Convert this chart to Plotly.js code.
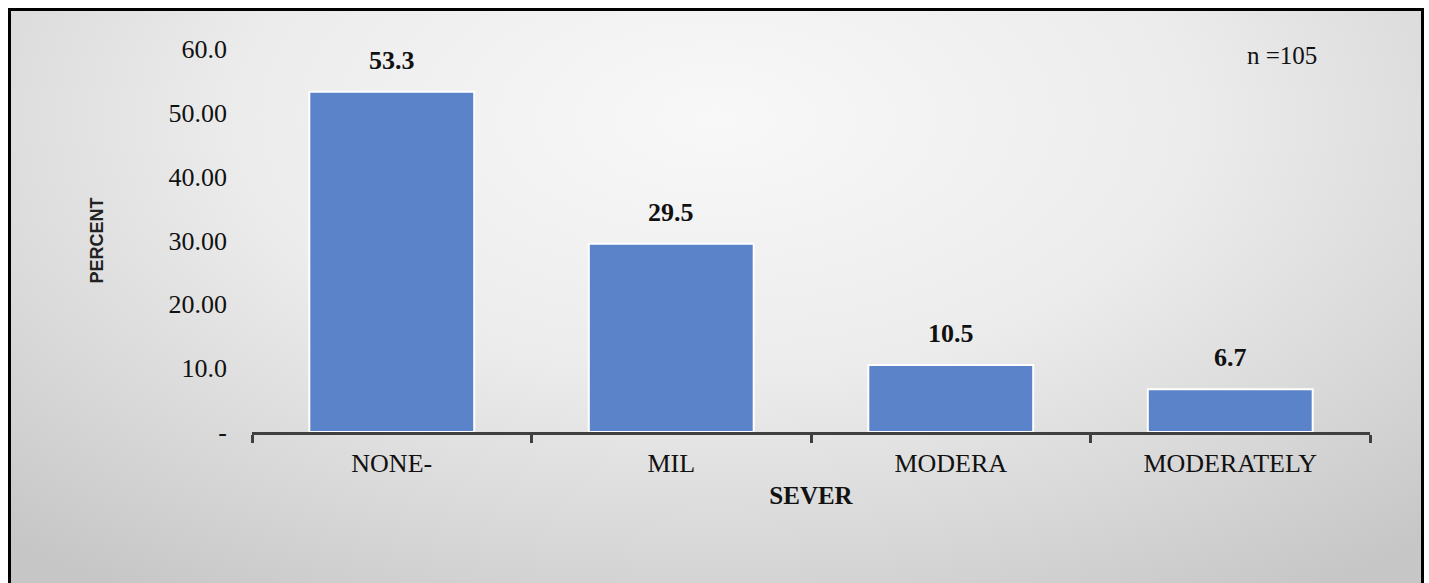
<!DOCTYPE html>
<html>
<head>
<meta charset="utf-8">
<script src="https://cdn.plot.ly/plotly-3.0.1.min.js"></script>
<style>
  html, body { margin: 0; padding: 0; width: 1429px; height: 583px; overflow: hidden; background: #ffffff; }
  #frame {
    position: absolute; left: 8px; top: 8px; width: 1410px; height: 600px;
    border-left: 3px solid #000; border-top: 3px solid #000; border-right: 3px solid #000;
    background: radial-gradient(ellipse 75% 95% at 50% 18%, #f8f8f8 0%, #ececec 45%, #d8d8d8 75%, #c6c6c6 100%);
  }
  #chart { position: absolute; left: 0; top: 0; width: 1429px; height: 583px; }
</style>
</head>
<body>
<div id="frame"></div>
<div id="chart"></div>
<script>
const categories = ["NONE-", "MIL", "MODERA", "MODERATELY"];
const percents = [53.3, 29.5, 10.5, 6.7];
const valueLabels = ["53.3", "29.5", "10.5", "6.7"];
const yTickVals = [0, 10, 20, 30, 40, 50, 60];
const yTickText = ["-", "10.0", "20.00", "30.00", "40.00", "50.00", "60.0"];
const sampleNote = "n =105";

const serif = "'Liberation Serif', 'Times New Roman', serif";

const trace = {
  type: "bar",
  x: categories,
  y: percents,
  marker: { color: "#5b83c9", line: { color: "#ffffff", width: 2 } },
  hoverinfo: "x+y"
};

const annotations = categories.map((c, i) => ({
  x: c, y: percents[i], xref: "x", yref: "y",
  text: "<b>" + valueLabels[i] + "</b>",
  showarrow: false, yanchor: "bottom", yshift: 15,
  font: { family: serif, size: 26, color: "#111111" }
}));
annotations.push({
  x: 0.921, y: 0.982, xref: "paper", yref: "paper",
  text: sampleNote, showarrow: false, xanchor: "center", yanchor: "middle",
  font: { family: serif, size: 25, color: "#111111" }
});

const layout = {
  width: 1429, height: 583,
  margin: { l: 252, r: 59, t: 49, b: 151 },
  paper_bgcolor: "rgba(0,0,0,0)",
  plot_bgcolor: "rgba(0,0,0,0)",
  bargap: 0.41,
  showlegend: false,
  xaxis: {
    type: "category",
    showline: true, linecolor: "#404040", linewidth: 3,
    ticks: "outside", tickson: "boundaries", ticklen: 8, tickwidth: 3, tickcolor: "#404040",
    ticklabelstandoff: 6,
    showgrid: false, zeroline: false,
    tickfont: { family: serif, size: 26, color: "#111111" },
    title: { text: "<b>SEVER</b>", font: { family: serif, size: 25, color: "#111111" }, standoff: 10 }
  },
  yaxis: {
    range: [0, 60],
    tickvals: yTickVals, ticktext: yTickText,
    showline: false, showgrid: false, zeroline: false, ticks: "",
    ticklabelstandoff: 24,
    tickfont: { family: serif, size: 26, color: "#111111" },
    title: { text: "<b>PERCENT</b>", font: { family: "'Liberation Sans', Arial, sans-serif", size: 18, color: "#222222" }, standoff: 60 }
  },
  annotations: annotations
};

Plotly.newPlot("chart", [trace], layout, { displayModeBar: false, staticPlot: true });
</script>
</body>
</html>
